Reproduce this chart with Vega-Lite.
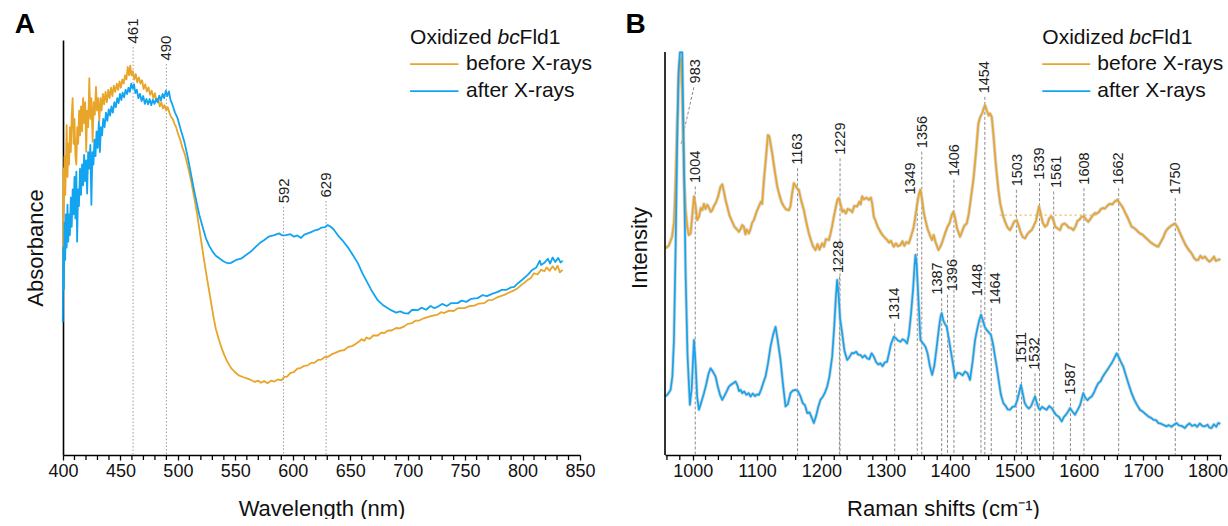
{
"$schema": "https://vega.github.io/schema/vega-lite/v6.json",
"padding": {"left": 14, "top": 11, "right": 0, "bottom": 0},
"bounds": "flush",
"spacing": 85,
"config": {
  "font": "Liberation Sans",
  "view": {"stroke": null},
  "axis": {"grid": false, "domainColor": "#000", "domainWidth": 1.6, "tickColor": "#000", "tickWidth": 1.3, "tickSize": 5, "labelFontSize": 18, "labelColor": "#111", "labelPadding": 2, "titleFontSize": 22, "titleFontWeight": "normal", "titleColor": "#111", "labelFlush": false, "labelOverlap": false}
},
"datasets": {
  "absA": [
    {"nm":400.0,"a":42,"s":"before X-rays"},{"nm":400.3,"a":69,"s":"before X-rays"},{"nm":400.8,"a":60,"s":"before X-rays"},{"nm":401.3,"a":72,"s":"before X-rays"},{"nm":402.0,"a":62.7,"s":"before X-rays"},{"nm":402.6,"a":71,"s":"before X-rays"},{"nm":403.2,"a":79.5,"s":"before X-rays"},{"nm":403.9,"a":67,"s":"before X-rays"},{"nm":404.6,"a":75,"s":"before X-rays"},{"nm":405.3,"a":70,"s":"before X-rays"},{"nm":406.0,"a":79,"s":"before X-rays"},{"nm":406.8,"a":73,"s":"before X-rays"},{"nm":407.6,"a":82,"s":"before X-rays"},{"nm":408.4,"a":86,"s":"before X-rays"},{"nm":409.2,"a":75,"s":"before X-rays"},{"nm":410.0,"a":81,"s":"before X-rays"},{"nm":410.8,"a":72,"s":"before X-rays"},{"nm":411.6,"a":70,"s":"before X-rays"},{"nm":412.4,"a":79,"s":"before X-rays"},{"nm":413.2,"a":75,"s":"before X-rays"},{"nm":414.0,"a":83,"s":"before X-rays"},{"nm":414.8,"a":77,"s":"before X-rays"},{"nm":415.7,"a":84,"s":"before X-rays"},{"nm":416.6,"a":78,"s":"before X-rays"},{"nm":417.5,"a":86,"s":"before X-rays"},{"nm":418.4,"a":80,"s":"before X-rays"},{"nm":419.3,"a":85,"s":"before X-rays"},{"nm":420.2,"a":73.1,"s":"before X-rays"},{"nm":421.0,"a":83,"s":"before X-rays"},{"nm":421.9,"a":79,"s":"before X-rays"},{"nm":422.9,"a":90.8,"s":"before X-rays"},{"nm":423.8,"a":81,"s":"before X-rays"},{"nm":424.7,"a":86,"s":"before X-rays"},{"nm":425.8,"a":75.5,"s":"before X-rays"},{"nm":426.7,"a":85,"s":"before X-rays"},{"nm":427.7,"a":82,"s":"before X-rays"},{"nm":428.7,"a":88.7,"s":"before X-rays"},{"nm":429.6,"a":83,"s":"before X-rays"},{"nm":430.5,"a":86,"s":"before X-rays"},{"nm":431.6,"a":80.5,"s":"before X-rays"},{"nm":432.6,"a":86,"s":"before X-rays"},{"nm":433.6,"a":83,"s":"before X-rays"},{"nm":434.7,"a":87,"s":"before X-rays"},{"nm":435.8,"a":84.5,"s":"before X-rays"},{"nm":437.0,"a":87.5,"s":"before X-rays"},{"nm":438.2,"a":85,"s":"before X-rays"},{"nm":439.4,"a":88,"s":"before X-rays"},{"nm":440.6,"a":86,"s":"before X-rays"},{"nm":441.8,"a":88.5,"s":"before X-rays"},{"nm":443.0,"a":86.5,"s":"before X-rays"},{"nm":444.2,"a":89,"s":"before X-rays"},{"nm":445.5,"a":87.5,"s":"before X-rays"},{"nm":446.8,"a":89.5,"s":"before X-rays"},{"nm":448.0,"a":88,"s":"before X-rays"},{"nm":449.2,"a":90,"s":"before X-rays"},{"nm":450.4,"a":88.5,"s":"before X-rays"},{"nm":451.6,"a":90.5,"s":"before X-rays"},{"nm":452.8,"a":89.5,"s":"before X-rays"},{"nm":454.0,"a":91.5,"s":"before X-rays"},{"nm":455.2,"a":90.5,"s":"before X-rays"},{"nm":456.3,"a":93.5,"s":"before X-rays"},{"nm":457.5,"a":91.5,"s":"before X-rays"},{"nm":458.5,"a":93.8,"s":"before X-rays"},{"nm":459.6,"a":91.5,"s":"before X-rays"},{"nm":460.7,"a":92.5,"s":"before X-rays"},{"nm":462.0,"a":90.5,"s":"before X-rays"},{"nm":463.3,"a":91.8,"s":"before X-rays"},{"nm":464.6,"a":89.8,"s":"before X-rays"},{"nm":466.0,"a":91,"s":"before X-rays"},{"nm":467.4,"a":89.5,"s":"before X-rays"},{"nm":468.8,"a":90.3,"s":"before X-rays"},{"nm":470.2,"a":88.2,"s":"before X-rays"},{"nm":471.6,"a":89.3,"s":"before X-rays"},{"nm":473.0,"a":87.6,"s":"before X-rays"},{"nm":474.4,"a":88.6,"s":"before X-rays"},{"nm":475.8,"a":86.8,"s":"before X-rays"},{"nm":477.2,"a":87.8,"s":"before X-rays"},{"nm":478.6,"a":86,"s":"before X-rays"},{"nm":480.0,"a":87.2,"s":"before X-rays"},{"nm":481.4,"a":85.3,"s":"before X-rays"},{"nm":482.8,"a":86,"s":"before X-rays"},{"nm":484.2,"a":84,"s":"before X-rays"},{"nm":485.6,"a":85,"s":"before X-rays"},{"nm":487.0,"a":83.5,"s":"before X-rays"},{"nm":488.4,"a":84.3,"s":"before X-rays"},{"nm":489.8,"a":83,"s":"before X-rays"},{"nm":491.2,"a":83.8,"s":"before X-rays"},{"nm":492.6,"a":82.5,"s":"before X-rays"},{"nm":494.0,"a":81.5,"s":"before X-rays"},{"nm":495.5,"a":81,"s":"before X-rays"},{"nm":497.0,"a":79.8,"s":"before X-rays"},{"nm":498.5,"a":79,"s":"before X-rays"},{"nm":500.0,"a":77.5,"s":"before X-rays"},{"nm":502.0,"a":76,"s":"before X-rays"},{"nm":504.0,"a":74,"s":"before X-rays"},{"nm":506.0,"a":72.5,"s":"before X-rays"},{"nm":508.0,"a":70.3,"s":"before X-rays"},{"nm":510.0,"a":68,"s":"before X-rays"},{"nm":512.0,"a":65.3,"s":"before X-rays"},{"nm":514.3,"a":61.9,"s":"before X-rays"},{"nm":516.5,"a":58.5,"s":"before X-rays"},{"nm":518.6,"a":54.6,"s":"before X-rays"},{"nm":520.8,"a":50.6,"s":"before X-rays"},{"nm":523.0,"a":46.6,"s":"before X-rays"},{"nm":525.1,"a":43,"s":"before X-rays"},{"nm":527.3,"a":39.4,"s":"before X-rays"},{"nm":529.5,"a":35.7,"s":"before X-rays"},{"nm":531.5,"a":32.5,"s":"before X-rays"},{"nm":533.1,"a":30.3,"s":"before X-rays"},{"nm":535.5,"a":28,"s":"before X-rays"},{"nm":538.0,"a":25.8,"s":"before X-rays"},{"nm":540.5,"a":24,"s":"before X-rays"},{"nm":543.0,"a":22.5,"s":"before X-rays"},{"nm":546.2,"a":21,"s":"before X-rays"},{"nm":549.5,"a":20,"s":"before X-rays"},{"nm":553.0,"a":19.2,"s":"before X-rays"},{"nm":556.5,"a":18.8,"s":"before X-rays"},{"nm":560.8,"a":18.4,"s":"before X-rays"},{"nm":564.0,"a":18,"s":"before X-rays"},{"nm":567.0,"a":17.6,"s":"before X-rays"},{"nm":570.0,"a":17.9,"s":"before X-rays"},{"nm":572.3,"a":17.4,"s":"before X-rays"},{"nm":575.0,"a":17.8,"s":"before X-rays"},{"nm":578.0,"a":17.3,"s":"before X-rays"},{"nm":581.0,"a":17.9,"s":"before X-rays"},{"nm":583.9,"a":17.7,"s":"before X-rays"},{"nm":587.0,"a":18.2,"s":"before X-rays"},{"nm":590.0,"a":18,"s":"before X-rays"},{"nm":592.6,"a":18.8,"s":"before X-rays"},{"nm":595.0,"a":18.9,"s":"before X-rays"},{"nm":598.0,"a":19.8,"s":"before X-rays"},{"nm":601.0,"a":20,"s":"before X-rays"},{"nm":604.0,"a":20.8,"s":"before X-rays"},{"nm":607.2,"a":21,"s":"before X-rays"},{"nm":610.0,"a":21.5,"s":"before X-rays"},{"nm":613.0,"a":21.6,"s":"before X-rays"},{"nm":616.0,"a":22.2,"s":"before X-rays"},{"nm":618.7,"a":22.2,"s":"before X-rays"},{"nm":622.0,"a":22.9,"s":"before X-rays"},{"nm":625.0,"a":23,"s":"before X-rays"},{"nm":628.0,"a":23.6,"s":"before X-rays"},{"nm":630.4,"a":23.6,"s":"before X-rays"},{"nm":634.0,"a":24.3,"s":"before X-rays"},{"nm":637.0,"a":24.6,"s":"before X-rays"},{"nm":641.0,"a":25.1,"s":"before X-rays"},{"nm":644.8,"a":25.3,"s":"before X-rays"},{"nm":648.0,"a":26,"s":"before X-rays"},{"nm":652.0,"a":26.3,"s":"before X-rays"},{"nm":655.0,"a":26.8,"s":"before X-rays"},{"nm":658.0,"a":27.4,"s":"before X-rays"},{"nm":660.0,"a":27.9,"s":"before X-rays"},{"nm":662.3,"a":27.5,"s":"before X-rays"},{"nm":664.0,"a":28.3,"s":"before X-rays"},{"nm":667.0,"a":28,"s":"before X-rays"},{"nm":670.0,"a":28.8,"s":"before X-rays"},{"nm":674.0,"a":28.8,"s":"before X-rays"},{"nm":677.0,"a":29.5,"s":"before X-rays"},{"nm":679.7,"a":29.4,"s":"before X-rays"},{"nm":683.0,"a":30,"s":"before X-rays"},{"nm":686.0,"a":30,"s":"before X-rays"},{"nm":690.0,"a":30.6,"s":"before X-rays"},{"nm":693.0,"a":30.5,"s":"before X-rays"},{"nm":697.1,"a":31,"s":"before X-rays"},{"nm":700.0,"a":31.6,"s":"before X-rays"},{"nm":704.0,"a":31.8,"s":"before X-rays"},{"nm":707.0,"a":32.4,"s":"before X-rays"},{"nm":710.0,"a":32.4,"s":"before X-rays"},{"nm":714.5,"a":33,"s":"before X-rays"},{"nm":718.0,"a":33.3,"s":"before X-rays"},{"nm":722.0,"a":33.6,"s":"before X-rays"},{"nm":726.0,"a":33.8,"s":"before X-rays"},{"nm":729.0,"a":34.4,"s":"before X-rays"},{"nm":731.9,"a":34.2,"s":"before X-rays"},{"nm":736.0,"a":34.8,"s":"before X-rays"},{"nm":740.0,"a":34.7,"s":"before X-rays"},{"nm":744.0,"a":35.4,"s":"before X-rays"},{"nm":749.3,"a":35.4,"s":"before X-rays"},{"nm":754.0,"a":35.9,"s":"before X-rays"},{"nm":758.0,"a":36,"s":"before X-rays"},{"nm":762.0,"a":36.5,"s":"before X-rays"},{"nm":766.7,"a":36.6,"s":"before X-rays"},{"nm":770.0,"a":37.3,"s":"before X-rays"},{"nm":774.0,"a":37.4,"s":"before X-rays"},{"nm":778.0,"a":38,"s":"before X-rays"},{"nm":781.0,"a":38.3,"s":"before X-rays"},{"nm":784.1,"a":38.6,"s":"before X-rays"},{"nm":788.0,"a":39.1,"s":"before X-rays"},{"nm":792.0,"a":39.6,"s":"before X-rays"},{"nm":795.8,"a":40.2,"s":"before X-rays"},{"nm":799.0,"a":41,"s":"before X-rays"},{"nm":802.0,"a":41.6,"s":"before X-rays"},{"nm":804.5,"a":42.2,"s":"before X-rays"},{"nm":807.0,"a":42.6,"s":"before X-rays"},{"nm":810.0,"a":43.8,"s":"before X-rays"},{"nm":813.0,"a":43.5,"s":"before X-rays"},{"nm":816.1,"a":44.6,"s":"before X-rays"},{"nm":819.0,"a":44.3,"s":"before X-rays"},{"nm":821.0,"a":45.2,"s":"before X-rays"},{"nm":823.5,"a":44.4,"s":"before X-rays"},{"nm":826.2,"a":45.5,"s":"before X-rays"},{"nm":828.5,"a":44.6,"s":"before X-rays"},{"nm":830.5,"a":45.6,"s":"before X-rays"},{"nm":832.5,"a":44,"s":"before X-rays"},{"nm":834.9,"a":44.6,"s":"before X-rays"},
    {"nm":399.8,"a":32,"s":"after X-rays"},{"nm":400.2,"a":50,"s":"after X-rays"},{"nm":400.8,"a":40,"s":"after X-rays"},{"nm":401.3,"a":56,"s":"after X-rays"},{"nm":401.9,"a":47,"s":"after X-rays"},{"nm":402.5,"a":58,"s":"after X-rays"},{"nm":403.2,"a":50,"s":"after X-rays"},{"nm":403.9,"a":60.3,"s":"after X-rays"},{"nm":404.6,"a":51.4,"s":"after X-rays"},{"nm":405.3,"a":58,"s":"after X-rays"},{"nm":406.0,"a":53,"s":"after X-rays"},{"nm":406.8,"a":62,"s":"after X-rays"},{"nm":407.6,"a":55,"s":"after X-rays"},{"nm":408.4,"a":64,"s":"after X-rays"},{"nm":409.2,"a":58,"s":"after X-rays"},{"nm":410.0,"a":67,"s":"after X-rays"},{"nm":410.8,"a":57,"s":"after X-rays"},{"nm":411.6,"a":68.3,"s":"after X-rays"},{"nm":412.3,"a":51.4,"s":"after X-rays"},{"nm":413.1,"a":64,"s":"after X-rays"},{"nm":413.9,"a":60,"s":"after X-rays"},{"nm":414.8,"a":69,"s":"after X-rays"},{"nm":415.7,"a":62.7,"s":"after X-rays"},{"nm":416.6,"a":70,"s":"after X-rays"},{"nm":417.5,"a":65,"s":"after X-rays"},{"nm":418.4,"a":72.3,"s":"after X-rays"},{"nm":419.3,"a":66,"s":"after X-rays"},{"nm":420.2,"a":71,"s":"after X-rays"},{"nm":421.0,"a":63,"s":"after X-rays"},{"nm":421.9,"a":73,"s":"after X-rays"},{"nm":422.9,"a":69,"s":"after X-rays"},{"nm":423.8,"a":74.7,"s":"after X-rays"},{"nm":424.7,"a":60.3,"s":"after X-rays"},{"nm":425.6,"a":73,"s":"after X-rays"},{"nm":426.5,"a":70,"s":"after X-rays"},{"nm":427.4,"a":76,"s":"after X-rays"},{"nm":428.3,"a":72,"s":"after X-rays"},{"nm":429.2,"a":78,"s":"after X-rays"},{"nm":430.2,"a":74,"s":"after X-rays"},{"nm":431.2,"a":80.3,"s":"after X-rays"},{"nm":432.1,"a":73,"s":"after X-rays"},{"nm":433.0,"a":79,"s":"after X-rays"},{"nm":434.0,"a":77,"s":"after X-rays"},{"nm":435.0,"a":81,"s":"after X-rays"},{"nm":436.2,"a":79,"s":"after X-rays"},{"nm":437.4,"a":82.5,"s":"after X-rays"},{"nm":438.6,"a":80.5,"s":"after X-rays"},{"nm":439.8,"a":83.3,"s":"after X-rays"},{"nm":441.0,"a":81.8,"s":"after X-rays"},{"nm":442.2,"a":84,"s":"after X-rays"},{"nm":443.4,"a":82.5,"s":"after X-rays"},{"nm":444.7,"a":85,"s":"after X-rays"},{"nm":446.0,"a":83.8,"s":"after X-rays"},{"nm":447.2,"a":86,"s":"after X-rays"},{"nm":448.4,"a":84.8,"s":"after X-rays"},{"nm":449.6,"a":87,"s":"after X-rays"},{"nm":450.8,"a":85.5,"s":"after X-rays"},{"nm":451.9,"a":87.3,"s":"after X-rays"},{"nm":453.2,"a":86.2,"s":"after X-rays"},{"nm":454.5,"a":88,"s":"after X-rays"},{"nm":455.8,"a":87,"s":"after X-rays"},{"nm":457.0,"a":88.5,"s":"after X-rays"},{"nm":458.2,"a":87.5,"s":"after X-rays"},{"nm":459.4,"a":89.5,"s":"after X-rays"},{"nm":460.6,"a":88.3,"s":"after X-rays"},{"nm":461.8,"a":89.3,"s":"after X-rays"},{"nm":463.0,"a":87.2,"s":"after X-rays"},{"nm":464.3,"a":88,"s":"after X-rays"},{"nm":465.6,"a":86,"s":"after X-rays"},{"nm":467.0,"a":87,"s":"after X-rays"},{"nm":468.4,"a":85.3,"s":"after X-rays"},{"nm":469.8,"a":86.5,"s":"after X-rays"},{"nm":471.2,"a":84.6,"s":"after X-rays"},{"nm":472.6,"a":85.8,"s":"after X-rays"},{"nm":474.0,"a":84.5,"s":"after X-rays"},{"nm":475.4,"a":85.8,"s":"after X-rays"},{"nm":476.8,"a":84.3,"s":"after X-rays"},{"nm":478.2,"a":85.6,"s":"after X-rays"},{"nm":479.6,"a":84.6,"s":"after X-rays"},{"nm":481.0,"a":85.8,"s":"after X-rays"},{"nm":482.4,"a":85,"s":"after X-rays"},{"nm":483.8,"a":86.6,"s":"after X-rays"},{"nm":485.2,"a":85.4,"s":"after X-rays"},{"nm":486.7,"a":87,"s":"after X-rays"},{"nm":488.1,"a":86,"s":"after X-rays"},{"nm":489.5,"a":87.8,"s":"after X-rays"},{"nm":490.8,"a":86.5,"s":"after X-rays"},{"nm":492.2,"a":87.6,"s":"after X-rays"},{"nm":493.6,"a":85.5,"s":"after X-rays"},{"nm":495.4,"a":84.3,"s":"after X-rays"},{"nm":497.5,"a":82.5,"s":"after X-rays"},{"nm":499.8,"a":81.1,"s":"after X-rays"},{"nm":502.5,"a":78.4,"s":"after X-rays"},{"nm":505.6,"a":75.5,"s":"after X-rays"},{"nm":507.8,"a":72.8,"s":"after X-rays"},{"nm":509.9,"a":69.9,"s":"after X-rays"},{"nm":512.0,"a":66.8,"s":"after X-rays"},{"nm":514.3,"a":63.5,"s":"after X-rays"},{"nm":516.5,"a":60.6,"s":"after X-rays"},{"nm":518.6,"a":57.9,"s":"after X-rays"},{"nm":521.5,"a":55,"s":"after X-rays"},{"nm":524.4,"a":52.2,"s":"after X-rays"},{"nm":527.3,"a":50.4,"s":"after X-rays"},{"nm":530.2,"a":49,"s":"after X-rays"},{"nm":533.0,"a":48,"s":"after X-rays"},{"nm":536.0,"a":47.4,"s":"after X-rays"},{"nm":539.5,"a":46.7,"s":"after X-rays"},{"nm":543.3,"a":46.2,"s":"after X-rays"},{"nm":546.2,"a":46.3,"s":"after X-rays"},{"nm":550.6,"a":47,"s":"after X-rays"},{"nm":555.0,"a":47.3,"s":"after X-rays"},{"nm":559.3,"a":48.2,"s":"after X-rays"},{"nm":563.0,"a":48.9,"s":"after X-rays"},{"nm":567.9,"a":50.2,"s":"after X-rays"},{"nm":571.0,"a":51,"s":"after X-rays"},{"nm":575.2,"a":51.8,"s":"after X-rays"},{"nm":579.0,"a":52.6,"s":"after X-rays"},{"nm":583.9,"a":53,"s":"after X-rays"},{"nm":588.0,"a":53.4,"s":"after X-rays"},{"nm":591.0,"a":52.9,"s":"after X-rays"},{"nm":594.1,"a":53,"s":"after X-rays"},{"nm":598.0,"a":53.2,"s":"after X-rays"},{"nm":601.0,"a":52.6,"s":"after X-rays"},{"nm":604.0,"a":52.9,"s":"after X-rays"},{"nm":607.2,"a":52.3,"s":"after X-rays"},{"nm":610.0,"a":53.1,"s":"after X-rays"},{"nm":613.0,"a":53.4,"s":"after X-rays"},{"nm":615.9,"a":53.7,"s":"after X-rays"},{"nm":619.0,"a":54.1,"s":"after X-rays"},{"nm":622.0,"a":54.3,"s":"after X-rays"},{"nm":625.0,"a":54.8,"s":"after X-rays"},{"nm":628.0,"a":54.9,"s":"after X-rays"},{"nm":630.4,"a":55.4,"s":"after X-rays"},{"nm":633.0,"a":55,"s":"after X-rays"},{"nm":635.5,"a":54.4,"s":"after X-rays"},{"nm":639.1,"a":53,"s":"after X-rays"},{"nm":643.0,"a":51.8,"s":"after X-rays"},{"nm":647.8,"a":50.1,"s":"after X-rays"},{"nm":652.0,"a":48.3,"s":"after X-rays"},{"nm":656.5,"a":46.3,"s":"after X-rays"},{"nm":661.0,"a":43.6,"s":"after X-rays"},{"nm":665.2,"a":41.4,"s":"after X-rays"},{"nm":669.5,"a":39.2,"s":"after X-rays"},{"nm":673.9,"a":37.3,"s":"after X-rays"},{"nm":679.0,"a":36,"s":"after X-rays"},{"nm":685.5,"a":34.9,"s":"after X-rays"},{"nm":690.0,"a":34.3,"s":"after X-rays"},{"nm":693.5,"a":34.6,"s":"after X-rays"},{"nm":697.1,"a":34.2,"s":"after X-rays"},{"nm":700.5,"a":34.1,"s":"after X-rays"},{"nm":704.0,"a":35,"s":"after X-rays"},{"nm":708.7,"a":34.9,"s":"after X-rays"},{"nm":712.0,"a":35.5,"s":"after X-rays"},{"nm":716.0,"a":35,"s":"after X-rays"},{"nm":720.0,"a":35.9,"s":"after X-rays"},{"nm":723.0,"a":35.4,"s":"after X-rays"},{"nm":726.1,"a":35.7,"s":"after X-rays"},{"nm":730.0,"a":36.4,"s":"after X-rays"},{"nm":734.0,"a":35.9,"s":"after X-rays"},{"nm":738.0,"a":36.6,"s":"after X-rays"},{"nm":743.5,"a":36.6,"s":"after X-rays"},{"nm":747.0,"a":37.2,"s":"after X-rays"},{"nm":751.0,"a":36.9,"s":"after X-rays"},{"nm":755.0,"a":37.6,"s":"after X-rays"},{"nm":760.9,"a":37.8,"s":"after X-rays"},{"nm":765.0,"a":38.5,"s":"after X-rays"},{"nm":769.0,"a":38.3,"s":"after X-rays"},{"nm":774.0,"a":38.9,"s":"after X-rays"},{"nm":778.4,"a":39.3,"s":"after X-rays"},{"nm":782.0,"a":39.8,"s":"after X-rays"},{"nm":786.0,"a":39.8,"s":"after X-rays"},{"nm":790.0,"a":40.4,"s":"after X-rays"},{"nm":792.8,"a":40.5,"s":"after X-rays"},{"nm":796.0,"a":41.4,"s":"after X-rays"},{"nm":800.0,"a":42.3,"s":"after X-rays"},{"nm":804.5,"a":43.4,"s":"after X-rays"},{"nm":808.0,"a":44.5,"s":"after X-rays"},{"nm":812.0,"a":45.2,"s":"after X-rays"},{"nm":815.0,"a":46.8,"s":"after X-rays"},{"nm":816.1,"a":45.8,"s":"after X-rays"},{"nm":819.0,"a":46.3,"s":"after X-rays"},{"nm":822.0,"a":47.3,"s":"after X-rays"},{"nm":824.0,"a":46.1,"s":"after X-rays"},{"nm":826.2,"a":47.6,"s":"after X-rays"},{"nm":828.5,"a":46.5,"s":"after X-rays"},{"nm":831.0,"a":47.5,"s":"after X-rays"},{"nm":833.0,"a":46.4,"s":"after X-rays"},{"nm":834.9,"a":46.8,"s":"after X-rays"}
  ],
  "ram": [
    {"cm":958,"i":49.8,"s":"before X-rays"},{"cm":963,"i":50.5,"s":"before X-rays"},{"cm":968,"i":52.6,"s":"before X-rays"},{"cm":971,"i":56,"s":"before X-rays"},{"cm":973,"i":63.9,"s":"before X-rays"},{"cm":976,"i":80,"s":"before X-rays"},{"cm":978.7,"i":93,"s":"before X-rays"},{"cm":981.3,"i":95.6,"s":"before X-rays"},{"cm":983.5,"i":88,"s":"before X-rays"},{"cm":986.4,"i":67.9,"s":"before X-rays"},{"cm":989,"i":59,"s":"before X-rays"},{"cm":991.6,"i":55,"s":"before X-rays"},{"cm":994,"i":53,"s":"before X-rays"},{"cm":996.8,"i":53.4,"s":"before X-rays"},{"cm":999,"i":57,"s":"before X-rays"},{"cm":1002,"i":62.3,"s":"before X-rays"},{"cm":1004.5,"i":60,"s":"before X-rays"},{"cm":1007,"i":56.6,"s":"before X-rays"},{"cm":1010,"i":57.5,"s":"before X-rays"},{"cm":1012.5,"i":59.5,"s":"before X-rays"},{"cm":1014.9,"i":59,"s":"before X-rays"},{"cm":1017.5,"i":60.5,"s":"before X-rays"},{"cm":1020,"i":59.3,"s":"before X-rays"},{"cm":1022.7,"i":60.3,"s":"before X-rays"},{"cm":1025.5,"i":59.5,"s":"before X-rays"},{"cm":1028,"i":58.6,"s":"before X-rays"},{"cm":1030.4,"i":59,"s":"before X-rays"},{"cm":1033,"i":60,"s":"before X-rays"},{"cm":1035.6,"i":60.7,"s":"before X-rays"},{"cm":1039,"i":62,"s":"before X-rays"},{"cm":1043.4,"i":64.7,"s":"before X-rays"},{"cm":1046,"i":65.2,"s":"before X-rays"},{"cm":1048.5,"i":63.5,"s":"before X-rays"},{"cm":1051,"i":61.5,"s":"before X-rays"},{"cm":1053.7,"i":59.9,"s":"before X-rays"},{"cm":1057,"i":57.8,"s":"before X-rays"},{"cm":1061.5,"i":56.2,"s":"before X-rays"},{"cm":1065,"i":55,"s":"before X-rays"},{"cm":1068,"i":54.5,"s":"before X-rays"},{"cm":1071.8,"i":53.8,"s":"before X-rays"},{"cm":1075,"i":54.6,"s":"before X-rays"},{"cm":1077,"i":55.4,"s":"before X-rays"},{"cm":1079.6,"i":55,"s":"before X-rays"},{"cm":1082,"i":53.2,"s":"before X-rays"},{"cm":1084,"i":54.3,"s":"before X-rays"},{"cm":1087.4,"i":53.4,"s":"before X-rays"},{"cm":1090,"i":54.5,"s":"before X-rays"},{"cm":1092.5,"i":56,"s":"before X-rays"},{"cm":1095.1,"i":56.6,"s":"before X-rays"},{"cm":1099,"i":58.5,"s":"before X-rays"},{"cm":1102.9,"i":59.9,"s":"before X-rays"},{"cm":1106,"i":61,"s":"before X-rays"},{"cm":1108,"i":60.5,"s":"before X-rays"},{"cm":1110.7,"i":66.3,"s":"before X-rays"},{"cm":1113.5,"i":71,"s":"before X-rays"},{"cm":1116.9,"i":77.1,"s":"before X-rays"},{"cm":1119,"i":76.8,"s":"before X-rays"},{"cm":1121,"i":75,"s":"before X-rays"},{"cm":1123.6,"i":72.7,"s":"before X-rays"},{"cm":1127,"i":69,"s":"before X-rays"},{"cm":1131.4,"i":64.7,"s":"before X-rays"},{"cm":1135,"i":62.5,"s":"before X-rays"},{"cm":1138,"i":61,"s":"before X-rays"},{"cm":1141.7,"i":59.9,"s":"before X-rays"},{"cm":1145,"i":59.2,"s":"before X-rays"},{"cm":1149.5,"i":59,"s":"before X-rays"},{"cm":1152,"i":60,"s":"before X-rays"},{"cm":1154.5,"i":63,"s":"before X-rays"},{"cm":1157.3,"i":65.5,"s":"before X-rays"},{"cm":1160,"i":64.8,"s":"before X-rays"},{"cm":1162.5,"i":64.2,"s":"before X-rays"},{"cm":1165,"i":63.9,"s":"before X-rays"},{"cm":1168,"i":61.7,"s":"before X-rays"},{"cm":1172.8,"i":59,"s":"before X-rays"},{"cm":1176,"i":56.5,"s":"before X-rays"},{"cm":1180.5,"i":53.4,"s":"before X-rays"},{"cm":1184,"i":51.7,"s":"before X-rays"},{"cm":1187,"i":50.3,"s":"before X-rays"},{"cm":1190.9,"i":49.4,"s":"before X-rays"},{"cm":1194,"i":50.8,"s":"before X-rays"},{"cm":1197,"i":49.5,"s":"before X-rays"},{"cm":1201.2,"i":51,"s":"before X-rays"},{"cm":1204,"i":50.2,"s":"before X-rays"},{"cm":1207,"i":52,"s":"before X-rays"},{"cm":1211.6,"i":51.8,"s":"before X-rays"},{"cm":1214,"i":53.2,"s":"before X-rays"},{"cm":1216.5,"i":55,"s":"before X-rays"},{"cm":1219.4,"i":57.4,"s":"before X-rays"},{"cm":1222.5,"i":59.8,"s":"before X-rays"},{"cm":1225,"i":61.5,"s":"before X-rays"},{"cm":1227.1,"i":61.9,"s":"before X-rays"},{"cm":1230,"i":60.3,"s":"before X-rays"},{"cm":1232.5,"i":58.6,"s":"before X-rays"},{"cm":1234.9,"i":59,"s":"before X-rays"},{"cm":1238,"i":58.2,"s":"before X-rays"},{"cm":1241,"i":59.3,"s":"before X-rays"},{"cm":1245.2,"i":59,"s":"before X-rays"},{"cm":1248,"i":58.5,"s":"before X-rays"},{"cm":1251,"i":60,"s":"before X-rays"},{"cm":1255.6,"i":59.9,"s":"before X-rays"},{"cm":1259,"i":61,"s":"before X-rays"},{"cm":1261,"i":60.4,"s":"before X-rays"},{"cm":1263.3,"i":62.3,"s":"before X-rays"},{"cm":1266,"i":61.6,"s":"before X-rays"},{"cm":1270,"i":62,"s":"before X-rays"},{"cm":1273.7,"i":61.5,"s":"before X-rays"},{"cm":1277,"i":62,"s":"before X-rays"},{"cm":1279,"i":60.5,"s":"before X-rays"},{"cm":1281.5,"i":57.4,"s":"before X-rays"},{"cm":1284,"i":56.5,"s":"before X-rays"},{"cm":1287.5,"i":55,"s":"before X-rays"},{"cm":1291.8,"i":53.8,"s":"before X-rays"},{"cm":1295,"i":53,"s":"before X-rays"},{"cm":1298.5,"i":52.4,"s":"before X-rays"},{"cm":1302.2,"i":51.8,"s":"before X-rays"},{"cm":1305,"i":51.2,"s":"before X-rays"},{"cm":1308,"i":51.6,"s":"before X-rays"},{"cm":1312.5,"i":50.2,"s":"before X-rays"},{"cm":1316,"i":51,"s":"before X-rays"},{"cm":1319,"i":50.3,"s":"before X-rays"},{"cm":1322.9,"i":50.6,"s":"before X-rays"},{"cm":1326,"i":51.5,"s":"before X-rays"},{"cm":1329,"i":50.4,"s":"before X-rays"},{"cm":1332,"i":51.3,"s":"before X-rays"},{"cm":1335.8,"i":51,"s":"before X-rays"},{"cm":1339,"i":52.5,"s":"before X-rays"},{"cm":1341.5,"i":53.8,"s":"before X-rays"},{"cm":1343.6,"i":55,"s":"before X-rays"},{"cm":1346.5,"i":58,"s":"before X-rays"},{"cm":1349,"i":60.6,"s":"before X-rays"},{"cm":1351.5,"i":62.8,"s":"before X-rays"},{"cm":1353.9,"i":63.9,"s":"before X-rays"},{"cm":1356.5,"i":61.5,"s":"before X-rays"},{"cm":1359,"i":58.5,"s":"before X-rays"},{"cm":1361.7,"i":56.6,"s":"before X-rays"},{"cm":1365,"i":54.5,"s":"before X-rays"},{"cm":1369.5,"i":52.6,"s":"before X-rays"},{"cm":1372,"i":51.8,"s":"before X-rays"},{"cm":1374.5,"i":53,"s":"before X-rays"},{"cm":1377.2,"i":51.4,"s":"before X-rays"},{"cm":1381.9,"i":49.4,"s":"before X-rays"},{"cm":1385,"i":50.2,"s":"before X-rays"},{"cm":1388,"i":51.4,"s":"before X-rays"},{"cm":1392.2,"i":53.4,"s":"before X-rays"},{"cm":1396,"i":55,"s":"before X-rays"},{"cm":1399.5,"i":56,"s":"before X-rays"},{"cm":1402.5,"i":57.8,"s":"before X-rays"},{"cm":1405.1,"i":58.6,"s":"before X-rays"},{"cm":1408,"i":57,"s":"before X-rays"},{"cm":1411,"i":54.5,"s":"before X-rays"},{"cm":1415.5,"i":52.6,"s":"before X-rays"},{"cm":1419,"i":54,"s":"before X-rays"},{"cm":1422,"i":55.2,"s":"before X-rays"},{"cm":1425.9,"i":55.8,"s":"before X-rays"},{"cm":1429,"i":58,"s":"before X-rays"},{"cm":1432,"i":61.5,"s":"before X-rays"},{"cm":1436.2,"i":66.3,"s":"before X-rays"},{"cm":1440,"i":72.5,"s":"before X-rays"},{"cm":1444,"i":79.9,"s":"before X-rays"},{"cm":1447,"i":81.5,"s":"before X-rays"},{"cm":1450,"i":82.4,"s":"before X-rays"},{"cm":1452.5,"i":83.6,"s":"before X-rays"},{"cm":1454.3,"i":84.3,"s":"before X-rays"},{"cm":1457,"i":83,"s":"before X-rays"},{"cm":1460,"i":81.8,"s":"before X-rays"},{"cm":1462,"i":82.3,"s":"before X-rays"},{"cm":1464.7,"i":81.5,"s":"before X-rays"},{"cm":1467.5,"i":77,"s":"before X-rays"},{"cm":1470,"i":72,"s":"before X-rays"},{"cm":1472.4,"i":67.9,"s":"before X-rays"},{"cm":1475,"i":64,"s":"before X-rays"},{"cm":1478,"i":60.5,"s":"before X-rays"},{"cm":1482.8,"i":57.4,"s":"before X-rays"},{"cm":1486,"i":56,"s":"before X-rays"},{"cm":1489.5,"i":54.8,"s":"before X-rays"},{"cm":1493.1,"i":54.2,"s":"before X-rays"},{"cm":1496,"i":55,"s":"before X-rays"},{"cm":1499.5,"i":56.2,"s":"before X-rays"},{"cm":1503.5,"i":56.6,"s":"before X-rays"},{"cm":1507,"i":55,"s":"before X-rays"},{"cm":1510,"i":53.5,"s":"before X-rays"},{"cm":1513,"i":52.5,"s":"before X-rays"},{"cm":1516.4,"i":52.2,"s":"before X-rays"},{"cm":1520,"i":53.2,"s":"before X-rays"},{"cm":1523.5,"i":53.8,"s":"before X-rays"},{"cm":1526.8,"i":54.2,"s":"before X-rays"},{"cm":1530,"i":55.2,"s":"before X-rays"},{"cm":1533.5,"i":56.4,"s":"before X-rays"},{"cm":1536,"i":58.3,"s":"before X-rays"},{"cm":1538.2,"i":59.9,"s":"before X-rays"},{"cm":1541,"i":58,"s":"before X-rays"},{"cm":1544,"i":56,"s":"before X-rays"},{"cm":1547.5,"i":55,"s":"before X-rays"},{"cm":1551,"i":55.5,"s":"before X-rays"},{"cm":1554,"i":57,"s":"before X-rays"},{"cm":1557.5,"i":57.5,"s":"before X-rays"},{"cm":1560.4,"i":56.6,"s":"before X-rays"},{"cm":1563.5,"i":55,"s":"before X-rays"},{"cm":1567,"i":54.6,"s":"before X-rays"},{"cm":1570.8,"i":54.2,"s":"before X-rays"},{"cm":1574,"i":55.5,"s":"before X-rays"},{"cm":1577.5,"i":55.8,"s":"before X-rays"},{"cm":1581.1,"i":55.4,"s":"before X-rays"},{"cm":1584.5,"i":54.8,"s":"before X-rays"},{"cm":1588,"i":54.7,"s":"before X-rays"},{"cm":1591.5,"i":54.2,"s":"before X-rays"},{"cm":1595,"i":55.1,"s":"before X-rays"},{"cm":1598,"i":56.4,"s":"before X-rays"},{"cm":1601,"i":56.7,"s":"before X-rays"},{"cm":1604.4,"i":57.4,"s":"before X-rays"},{"cm":1608,"i":57.5,"s":"before X-rays"},{"cm":1611,"i":56.8,"s":"before X-rays"},{"cm":1614.8,"i":56.2,"s":"before X-rays"},{"cm":1618.5,"i":57,"s":"before X-rays"},{"cm":1622,"i":57.8,"s":"before X-rays"},{"cm":1625,"i":58.3,"s":"before X-rays"},{"cm":1627.7,"i":58.2,"s":"before X-rays"},{"cm":1631,"i":58.5,"s":"before X-rays"},{"cm":1634,"i":59.2,"s":"before X-rays"},{"cm":1637.5,"i":59.5,"s":"before X-rays"},{"cm":1640.7,"i":59.4,"s":"before X-rays"},{"cm":1644,"i":60,"s":"before X-rays"},{"cm":1648,"i":60.5,"s":"before X-rays"},{"cm":1652,"i":60.4,"s":"before X-rays"},{"cm":1656.2,"i":61.1,"s":"before X-rays"},{"cm":1660,"i":61.5,"s":"before X-rays"},{"cm":1663,"i":60.8,"s":"before X-rays"},{"cm":1666,"i":60.2,"s":"before X-rays"},{"cm":1669.1,"i":59.4,"s":"before X-rays"},{"cm":1672,"i":58.4,"s":"before X-rays"},{"cm":1676,"i":57.2,"s":"before X-rays"},{"cm":1679,"i":56.1,"s":"before X-rays"},{"cm":1682.1,"i":55,"s":"before X-rays"},{"cm":1685,"i":54.8,"s":"before X-rays"},{"cm":1689,"i":54.3,"s":"before X-rays"},{"cm":1692,"i":53.8,"s":"before X-rays"},{"cm":1695,"i":53.4,"s":"before X-rays"},{"cm":1699,"i":53.1,"s":"before X-rays"},{"cm":1703,"i":52.5,"s":"before X-rays"},{"cm":1708,"i":51.8,"s":"before X-rays"},{"cm":1712,"i":51.2,"s":"before X-rays"},{"cm":1716,"i":50.8,"s":"before X-rays"},{"cm":1720,"i":50.4,"s":"before X-rays"},{"cm":1723.5,"i":50.2,"s":"before X-rays"},{"cm":1727,"i":51.2,"s":"before X-rays"},{"cm":1731,"i":52.3,"s":"before X-rays"},{"cm":1734,"i":53.5,"s":"before X-rays"},{"cm":1736.4,"i":54.2,"s":"before X-rays"},{"cm":1740,"i":54.8,"s":"before X-rays"},{"cm":1744,"i":55.3,"s":"before X-rays"},{"cm":1749.4,"i":55.8,"s":"before X-rays"},{"cm":1753,"i":55,"s":"before X-rays"},{"cm":1757,"i":53.6,"s":"before X-rays"},{"cm":1762.3,"i":51.8,"s":"before X-rays"},{"cm":1766,"i":50.6,"s":"before X-rays"},{"cm":1770,"i":49.6,"s":"before X-rays"},{"cm":1775.3,"i":48.6,"s":"before X-rays"},{"cm":1779,"i":47.5,"s":"before X-rays"},{"cm":1782,"i":47,"s":"before X-rays"},{"cm":1785.6,"i":47,"s":"before X-rays"},{"cm":1789,"i":48,"s":"before X-rays"},{"cm":1792,"i":47.4,"s":"before X-rays"},{"cm":1796,"i":47.8,"s":"before X-rays"},{"cm":1800,"i":47,"s":"before X-rays"},{"cm":1803,"i":46.6,"s":"before X-rays"},{"cm":1806.3,"i":47,"s":"before X-rays"},{"cm":1810,"i":47.8,"s":"before X-rays"},{"cm":1813,"i":46.8,"s":"before X-rays"},{"cm":1816.6,"i":47,"s":"before X-rays"},{"cm":1820,"i":47.2,"s":"before X-rays"},
    {"cm":958,"i":14.1,"s":"after X-rays"},{"cm":962,"i":14.8,"s":"after X-rays"},{"cm":965.7,"i":15.7,"s":"after X-rays"},{"cm":968.5,"i":19,"s":"after X-rays"},{"cm":970.9,"i":27.7,"s":"after X-rays"},{"cm":973.5,"i":50,"s":"after X-rays"},{"cm":976,"i":75.9,"s":"after X-rays"},{"cm":978,"i":92,"s":"after X-rays"},{"cm":980.2,"i":97,"s":"after X-rays"},{"cm":983.8,"i":97,"s":"after X-rays"},{"cm":986,"i":75,"s":"after X-rays"},{"cm":989,"i":43.8,"s":"after X-rays"},{"cm":992,"i":24,"s":"after X-rays"},{"cm":995.7,"i":12.1,"s":"after X-rays"},{"cm":998.5,"i":16,"s":"after X-rays"},{"cm":1002,"i":27.7,"s":"after X-rays"},{"cm":1004.5,"i":22,"s":"after X-rays"},{"cm":1007,"i":14,"s":"after X-rays"},{"cm":1009.7,"i":10.9,"s":"after X-rays"},{"cm":1013,"i":12.5,"s":"after X-rays"},{"cm":1017.5,"i":14.9,"s":"after X-rays"},{"cm":1021,"i":17,"s":"after X-rays"},{"cm":1024.5,"i":19.5,"s":"after X-rays"},{"cm":1027.8,"i":20.9,"s":"after X-rays"},{"cm":1031,"i":20.2,"s":"after X-rays"},{"cm":1035.6,"i":18.9,"s":"after X-rays"},{"cm":1039,"i":16.5,"s":"after X-rays"},{"cm":1042.5,"i":14.5,"s":"after X-rays"},{"cm":1046,"i":13.3,"s":"after X-rays"},{"cm":1049.5,"i":14.3,"s":"after X-rays"},{"cm":1053,"i":15.4,"s":"after X-rays"},{"cm":1056.3,"i":16.5,"s":"after X-rays"},{"cm":1060,"i":17,"s":"after X-rays"},{"cm":1063,"i":17.3,"s":"after X-rays"},{"cm":1066.7,"i":17.7,"s":"after X-rays"},{"cm":1069.5,"i":16.8,"s":"after X-rays"},{"cm":1072,"i":15.4,"s":"after X-rays"},{"cm":1074.5,"i":15.7,"s":"after X-rays"},{"cm":1077,"i":14.9,"s":"after X-rays"},{"cm":1080,"i":15.3,"s":"after X-rays"},{"cm":1083.5,"i":14.5,"s":"after X-rays"},{"cm":1087,"i":14.9,"s":"after X-rays"},{"cm":1090,"i":14.1,"s":"after X-rays"},{"cm":1093.5,"i":14.8,"s":"after X-rays"},{"cm":1097,"i":14.2,"s":"after X-rays"},{"cm":1100,"i":14.6,"s":"after X-rays"},{"cm":1102.9,"i":14.5,"s":"after X-rays"},{"cm":1106,"i":15.6,"s":"after X-rays"},{"cm":1109.5,"i":17.3,"s":"after X-rays"},{"cm":1113.2,"i":18.9,"s":"after X-rays"},{"cm":1117,"i":22,"s":"after X-rays"},{"cm":1121,"i":26.1,"s":"after X-rays"},{"cm":1125,"i":29,"s":"after X-rays"},{"cm":1128.8,"i":30.9,"s":"after X-rays"},{"cm":1132,"i":27.8,"s":"after X-rays"},{"cm":1136.5,"i":22.9,"s":"after X-rays"},{"cm":1140,"i":17.5,"s":"after X-rays"},{"cm":1144.3,"i":11.7,"s":"after X-rays"},{"cm":1148,"i":12.3,"s":"after X-rays"},{"cm":1152,"i":14.9,"s":"after X-rays"},{"cm":1155.5,"i":15.5,"s":"after X-rays"},{"cm":1159.8,"i":15.7,"s":"after X-rays"},{"cm":1163.5,"i":15.4,"s":"after X-rays"},{"cm":1167.6,"i":14.1,"s":"after X-rays"},{"cm":1171,"i":12.5,"s":"after X-rays"},{"cm":1174.5,"i":12,"s":"after X-rays"},{"cm":1178,"i":10.1,"s":"after X-rays"},{"cm":1181.5,"i":10.3,"s":"after X-rays"},{"cm":1185,"i":9,"s":"after X-rays"},{"cm":1188.3,"i":7.7,"s":"after X-rays"},{"cm":1192,"i":9.5,"s":"after X-rays"},{"cm":1195,"i":11.5,"s":"after X-rays"},{"cm":1198.6,"i":13.3,"s":"after X-rays"},{"cm":1202,"i":14,"s":"after X-rays"},{"cm":1205.5,"i":15,"s":"after X-rays"},{"cm":1209,"i":16.5,"s":"after X-rays"},{"cm":1212.5,"i":18.9,"s":"after X-rays"},{"cm":1216.8,"i":23.7,"s":"after X-rays"},{"cm":1220,"i":31,"s":"after X-rays"},{"cm":1222.5,"i":38,"s":"after X-rays"},{"cm":1224.5,"i":42.2,"s":"after X-rays"},{"cm":1227,"i":38,"s":"after X-rays"},{"cm":1229,"i":33,"s":"after X-rays"},{"cm":1232.3,"i":29.3,"s":"after X-rays"},{"cm":1236,"i":25,"s":"after X-rays"},{"cm":1240.1,"i":22.9,"s":"after X-rays"},{"cm":1244,"i":23.7,"s":"after X-rays"},{"cm":1247.5,"i":24.6,"s":"after X-rays"},{"cm":1250.4,"i":24.5,"s":"after X-rays"},{"cm":1254,"i":24.9,"s":"after X-rays"},{"cm":1257,"i":24.2,"s":"after X-rays"},{"cm":1260.8,"i":24.1,"s":"after X-rays"},{"cm":1264,"i":23.5,"s":"after X-rays"},{"cm":1267.5,"i":24,"s":"after X-rays"},{"cm":1271.1,"i":23.3,"s":"after X-rays"},{"cm":1274.5,"i":23.1,"s":"after X-rays"},{"cm":1278,"i":24.5,"s":"after X-rays"},{"cm":1281.5,"i":23.7,"s":"after X-rays"},{"cm":1285,"i":22.4,"s":"after X-rays"},{"cm":1288.5,"i":21.8,"s":"after X-rays"},{"cm":1291.8,"i":22.1,"s":"after X-rays"},{"cm":1295,"i":21.4,"s":"after X-rays"},{"cm":1298.5,"i":22.3,"s":"after X-rays"},{"cm":1302.2,"i":22.5,"s":"after X-rays"},{"cm":1305,"i":24.5,"s":"after X-rays"},{"cm":1308,"i":26.6,"s":"after X-rays"},{"cm":1312.5,"i":28.5,"s":"after X-rays"},{"cm":1316,"i":28.1,"s":"after X-rays"},{"cm":1319,"i":27.6,"s":"after X-rays"},{"cm":1322.9,"i":27.3,"s":"after X-rays"},{"cm":1326,"i":27.9,"s":"after X-rays"},{"cm":1329.5,"i":27.6,"s":"after X-rays"},{"cm":1333.2,"i":26.9,"s":"after X-rays"},{"cm":1336,"i":29,"s":"after X-rays"},{"cm":1339.4,"i":34.2,"s":"after X-rays"},{"cm":1342.5,"i":40,"s":"after X-rays"},{"cm":1345,"i":46,"s":"after X-rays"},{"cm":1346.2,"i":48.2,"s":"after X-rays"},{"cm":1348,"i":46,"s":"after X-rays"},{"cm":1351,"i":37,"s":"after X-rays"},{"cm":1353.9,"i":27.7,"s":"after X-rays"},{"cm":1357.5,"i":27,"s":"after X-rays"},{"cm":1361.7,"i":26.1,"s":"after X-rays"},{"cm":1365,"i":24.5,"s":"after X-rays"},{"cm":1368.5,"i":21.5,"s":"after X-rays"},{"cm":1372.1,"i":19.3,"s":"after X-rays"},{"cm":1375.5,"i":21.5,"s":"after X-rays"},{"cm":1379.3,"i":26.1,"s":"after X-rays"},{"cm":1383,"i":31,"s":"after X-rays"},{"cm":1385.5,"i":33.5,"s":"after X-rays"},{"cm":1387,"i":34.2,"s":"after X-rays"},{"cm":1389.5,"i":32.4,"s":"after X-rays"},{"cm":1392,"i":31.6,"s":"after X-rays"},{"cm":1394.8,"i":30.9,"s":"after X-rays"},{"cm":1398,"i":28,"s":"after X-rays"},{"cm":1402.6,"i":23.7,"s":"after X-rays"},{"cm":1405.5,"i":21,"s":"after X-rays"},{"cm":1407.7,"i":18.5,"s":"after X-rays"},{"cm":1411.5,"i":19.8,"s":"after X-rays"},{"cm":1415.5,"i":19.7,"s":"after X-rays"},{"cm":1419.5,"i":19.2,"s":"after X-rays"},{"cm":1423.3,"i":20.1,"s":"after X-rays"},{"cm":1427,"i":19.7,"s":"after X-rays"},{"cm":1431,"i":18.1,"s":"after X-rays"},{"cm":1435,"i":22.5,"s":"after X-rays"},{"cm":1438.8,"i":27.7,"s":"after X-rays"},{"cm":1442,"i":30.2,"s":"after X-rays"},{"cm":1445.5,"i":32.6,"s":"after X-rays"},{"cm":1448.1,"i":33.8,"s":"after X-rays"},{"cm":1451,"i":32.4,"s":"after X-rays"},{"cm":1453.5,"i":31,"s":"after X-rays"},{"cm":1456.9,"i":30.1,"s":"after X-rays"},{"cm":1460,"i":29.6,"s":"after X-rays"},{"cm":1463.6,"i":28.9,"s":"after X-rays"},{"cm":1467,"i":26.5,"s":"after X-rays"},{"cm":1469.5,"i":24,"s":"after X-rays"},{"cm":1472.4,"i":21.3,"s":"after X-rays"},{"cm":1476,"i":17.5,"s":"after X-rays"},{"cm":1479,"i":14.5,"s":"after X-rays"},{"cm":1482.8,"i":12.5,"s":"after X-rays"},{"cm":1486.5,"i":11.8,"s":"after X-rays"},{"cm":1489.5,"i":11,"s":"after X-rays"},{"cm":1493.1,"i":10.9,"s":"after X-rays"},{"cm":1497,"i":11.6,"s":"after X-rays"},{"cm":1500.9,"i":11.7,"s":"after X-rays"},{"cm":1504,"i":13,"s":"after X-rays"},{"cm":1507,"i":14.8,"s":"after X-rays"},{"cm":1510.2,"i":16.9,"s":"after X-rays"},{"cm":1513,"i":14.8,"s":"after X-rays"},{"cm":1516,"i":12.5,"s":"after X-rays"},{"cm":1519,"i":11.7,"s":"after X-rays"},{"cm":1522.5,"i":11.2,"s":"after X-rays"},{"cm":1526,"i":11.8,"s":"after X-rays"},{"cm":1529,"i":13,"s":"after X-rays"},{"cm":1532,"i":14.1,"s":"after X-rays"},{"cm":1535,"i":12.5,"s":"after X-rays"},{"cm":1537.5,"i":11.3,"s":"after X-rays"},{"cm":1539.7,"i":10.9,"s":"after X-rays"},{"cm":1543,"i":11.6,"s":"after X-rays"},{"cm":1546.5,"i":11.2,"s":"after X-rays"},{"cm":1550.1,"i":10.9,"s":"after X-rays"},{"cm":1554,"i":11.8,"s":"after X-rays"},{"cm":1557.8,"i":11.3,"s":"after X-rays"},{"cm":1561.5,"i":10.4,"s":"after X-rays"},{"cm":1565,"i":9.6,"s":"after X-rays"},{"cm":1569,"i":9.2,"s":"after X-rays"},{"cm":1573.4,"i":8.1,"s":"after X-rays"},{"cm":1577,"i":9.2,"s":"after X-rays"},{"cm":1580.5,"i":9.8,"s":"after X-rays"},{"cm":1584,"i":10.6,"s":"after X-rays"},{"cm":1586.3,"i":11.3,"s":"after X-rays"},{"cm":1589.5,"i":10.6,"s":"after X-rays"},{"cm":1594.1,"i":9.7,"s":"after X-rays"},{"cm":1598,"i":10.8,"s":"after X-rays"},{"cm":1602,"i":12,"s":"after X-rays"},{"cm":1604.5,"i":13.5,"s":"after X-rays"},{"cm":1607,"i":14.9,"s":"after X-rays"},{"cm":1610,"i":13.8,"s":"after X-rays"},{"cm":1613.5,"i":13.2,"s":"after X-rays"},{"cm":1617,"i":13.8,"s":"after X-rays"},{"cm":1620,"i":14.1,"s":"after X-rays"},{"cm":1623.5,"i":15,"s":"after X-rays"},{"cm":1627,"i":16.3,"s":"after X-rays"},{"cm":1630.3,"i":17.3,"s":"after X-rays"},{"cm":1634,"i":17.8,"s":"after X-rays"},{"cm":1637,"i":18.8,"s":"after X-rays"},{"cm":1640.7,"i":19.7,"s":"after X-rays"},{"cm":1644,"i":20.4,"s":"after X-rays"},{"cm":1647.5,"i":21.3,"s":"after X-rays"},{"cm":1651,"i":22.1,"s":"after X-rays"},{"cm":1655,"i":23.3,"s":"after X-rays"},{"cm":1658.8,"i":24.5,"s":"after X-rays"},{"cm":1662,"i":23.6,"s":"after X-rays"},{"cm":1665.5,"i":22.4,"s":"after X-rays"},{"cm":1669.1,"i":21.3,"s":"after X-rays"},{"cm":1673,"i":19.3,"s":"after X-rays"},{"cm":1677,"i":17.3,"s":"after X-rays"},{"cm":1682.1,"i":14.9,"s":"after X-rays"},{"cm":1686,"i":13.4,"s":"after X-rays"},{"cm":1690,"i":12.2,"s":"after X-rays"},{"cm":1695,"i":10.9,"s":"after X-rays"},{"cm":1699,"i":10.5,"s":"after X-rays"},{"cm":1703.5,"i":9.9,"s":"after X-rays"},{"cm":1708,"i":9.3,"s":"after X-rays"},{"cm":1712,"i":9,"s":"after X-rays"},{"cm":1716,"i":8.5,"s":"after X-rays"},{"cm":1720,"i":8.4,"s":"after X-rays"},{"cm":1723.5,"i":7.7,"s":"after X-rays"},{"cm":1727,"i":7.6,"s":"after X-rays"},{"cm":1731,"i":7.3,"s":"after X-rays"},{"cm":1736.4,"i":6.9,"s":"after X-rays"},{"cm":1740,"i":7.2,"s":"after X-rays"},{"cm":1744,"i":6.8,"s":"after X-rays"},{"cm":1748,"i":7.3,"s":"after X-rays"},{"cm":1751.9,"i":7.7,"s":"after X-rays"},{"cm":1756,"i":7.1,"s":"after X-rays"},{"cm":1760,"i":7,"s":"after X-rays"},{"cm":1764.9,"i":6.5,"s":"after X-rays"},{"cm":1768.5,"i":7.2,"s":"after X-rays"},{"cm":1772,"i":7.6,"s":"after X-rays"},{"cm":1776,"i":7,"s":"after X-rays"},{"cm":1780.4,"i":7.3,"s":"after X-rays"},{"cm":1784,"i":6.8,"s":"after X-rays"},{"cm":1788,"i":7.6,"s":"after X-rays"},{"cm":1792,"i":7,"s":"after X-rays"},{"cm":1796,"i":6.9,"s":"after X-rays"},{"cm":1800,"i":7.3,"s":"after X-rays"},{"cm":1803,"i":6.6,"s":"after X-rays"},{"cm":1806.3,"i":6.5,"s":"after X-rays"},{"cm":1810,"i":7.4,"s":"after X-rays"},{"cm":1813.5,"i":6.8,"s":"after X-rays"},{"cm":1816.6,"i":7.7,"s":"after X-rays"},{"cm":1820,"i":7.5,"s":"after X-rays"}
  ],
  "annA": [
    {"pos":461,"top":98.3,"label":"461"},{"pos":490,"top":94.2,"label":"490"},{"pos":592,"top":59.8,"label":"592"},{"pos":629,"top":61.2,"label":"629"}
  ],
  "annB": [
    {"pos":1004,"lx":1005,"top":64.7,"label":"1004"},{"pos":1163,"lx":1164,"top":69.1,"label":"1163"},{"pos":1229,"lx":1230,"top":71.5,"label":"1229"},{"pos":1228,"lx":1228,"top":43,"label":"1228"},{"pos":1314,"lx":1314,"top":31.7,"label":"1314"},{"pos":1349,"lx":1340,"top":61.9,"label":"1349"},{"pos":1356,"lx":1358,"top":73.1,"label":"1356"},{"pos":1387,"lx":1382,"top":37.8,"label":"1387"},{"pos":1396,"lx":1404,"top":38.6,"label":"1396"},{"pos":1406,"lx":1407,"top":66.3,"label":"1406"},{"pos":1448,"lx":1444,"top":37.4,"label":"1448"},{"pos":1454,"lx":1454,"top":86.3,"label":"1454"},{"pos":1464,"lx":1471,"top":35.4,"label":"1464"},{"pos":1503,"lx":1506,"top":63.9,"label":"1503"},{"pos":1511,"lx":1511,"top":21.3,"label":"1511"},{"pos":1532,"lx":1532,"top":19.7,"label":"1532"},{"pos":1539,"lx":1540,"top":65.5,"label":"1539"},{"pos":1561,"lx":1566,"top":63.5,"label":"1561"},{"pos":1587,"lx":1588,"top":13.7,"label":"1587"},{"pos":1608,"lx":1609,"top":64.3,"label":"1608"},{"pos":1662,"lx":1663,"top":64.3,"label":"1662"},{"pos":1750,"lx":1751,"top":61.9,"label":"1750"}
  ],
  "leadB": [{"x1":982,"y1":75,"x2":1002,"y2":88.7,"lx":1005,"label":"983"}],
  "legA": [
    {"x1":702.1,"x2":744.2,"y":94.2,"s":"before X-rays"},{"x1":702.1,"x2":744.2,"y":87.7,"s":"after X-rays"}
  ],
  "legB": [
    {"x1":1543.3,"x2":1617.9,"y":94.2,"s":"before X-rays"},{"x1":1543.3,"x2":1617.9,"y":87.7,"s":"after X-rays"}
  ],
  "legTA": [
    {"x":702.1,"y":100.5,"t":"Oxidized"},{"x":797.4,"y":100.5,"t":"Fld1"},{"x":750.8,"y":94.2,"t":"before X-rays"},{"x":750.8,"y":87.7,"t":"after X-rays"}
  ],
  "legTB": [
    {"x":1543.3,"y":100.5,"t":"Oxidized"},{"x":1713,"y":100.5,"t":"Fld1"},{"x":1628.8,"y":94.2,"t":"before X-rays"},{"x":1628.8,"y":87.7,"t":"after X-rays"}
  ],
  "minorA": [{"t":410},{"t":420},{"t":430},{"t":440},{"t":460},{"t":470},{"t":480},{"t":490},{"t":510},{"t":520},{"t":530},{"t":540},{"t":560},{"t":570},{"t":580},{"t":590},{"t":610},{"t":620},{"t":630},{"t":640},{"t":660},{"t":670},{"t":680},{"t":690},{"t":710},{"t":720},{"t":730},{"t":740},{"t":760},{"t":770},{"t":780},{"t":790},{"t":810},{"t":820},{"t":830},{"t":840}],
  "minorB": [{"t":960},{"t":980},{"t":1020},{"t":1040},{"t":1060},{"t":1080},{"t":1120},{"t":1140},{"t":1160},{"t":1180},{"t":1220},{"t":1240},{"t":1260},{"t":1280},{"t":1320},{"t":1340},{"t":1360},{"t":1380},{"t":1420},{"t":1440},{"t":1460},{"t":1480},{"t":1520},{"t":1540},{"t":1560},{"t":1580},{"t":1620},{"t":1640},{"t":1660},{"t":1680},{"t":1720},{"t":1740},{"t":1760},{"t":1780},{"t":1820}],
  "one": [{"k": 1}]
},
"hconcat": [
  {
    "width": 517, "height": 415,
    "layer": [
      {"data": {"name": "annA"}, "mark": {"type": "rule", "color": "#999", "strokeWidth": 1, "strokeDash": [1.5, 2]},
       "encoding": {
         "x": {"field": "pos", "type": "quantitative", "title": "Wavelength (nm)", "scale": {"domain": [400, 850], "nice": false, "zero": false},
               "axis": {"values": [400,450,500,550,600,650,700,750,800,850], "format": "d", "labelOverlap": false, "labelFlush": false, "labelFontSize": 18, "labelPadding": 2, "ticks": true, "tickSize": 5, "tickWidth": 1.3, "tickColor": "#000", "titlePadding": 18, "titleFontSize": 22}},
         "y": {"field": "top", "type": "quantitative", "title": "Absorbance", "scale": {"domain": [0, 100], "nice": false, "zero": false},
               "axis": {"ticks": false, "labels": false, "titlePadding": 16, "titleFontSize": 22}},
         "y2": {"datum": 0}
       }},
      {"data": {"name": "minorA"}, "mark": {"type": "rule", "color": "#000", "strokeWidth": 1.3},
       "encoding": {
         "x": {"field": "t", "type": "quantitative", "title": "Wavelength (nm)"},
         "y": {"datum": 0, "type": "quantitative", "title": "Absorbance"},
         "y2": {"datum": -1.2}
       }},
      {"data": {"name": "annA"}, "mark": {"type": "text", "angle": 270, "align": "left", "baseline": "middle", "dx": 3.5, "fontSize": 15, "color": "#222"},
       "encoding": {
         "x": {"field": "pos", "type": "quantitative", "title": "Wavelength (nm)"},
         "y": {"field": "top", "type": "quantitative", "title": "Absorbance"},
         "text": {"field": "label"}
       }},
      {"data": {"name": "absA"}, "mark": {"type": "line", "strokeWidth": 1.8, "strokeJoin": "round"},
       "encoding": {
         "x": {"field": "nm", "type": "quantitative", "title": "Wavelength (nm)"},
         "y": {"field": "a", "type": "quantitative", "title": "Absorbance"},
         "color": {"field": "s", "type": "nominal", "scale": {"domain": ["before X-rays", "after X-rays"], "range": ["#E8A52A", "#12A4F0"]}, "legend": null},
         "order": {"field": "nm", "type": "quantitative"}
       }},
      {"data": {"name": "legA"}, "mark": {"type": "rule", "strokeWidth": 1.8},
       "encoding": {
         "x": {"field": "x1", "type": "quantitative", "title": "Wavelength (nm)"},
         "x2": {"field": "x2"},
         "y": {"field": "y", "type": "quantitative", "title": "Absorbance"},
         "color": {"field": "s", "type": "nominal", "legend": null}
       }},
      {"data": {"name": "legTA"}, "mark": {"type": "text", "align": "left", "baseline": "middle", "fontSize": 21, "color": "#111"},
       "encoding": {
         "x": {"field": "x", "type": "quantitative", "title": "Wavelength (nm)"},
         "y": {"field": "y", "type": "quantitative", "title": "Absorbance"},
         "text": {"field": "t"}
       }},
      {"data": {"name": "one"}, "mark": {"type": "text", "text": "bc", "fontStyle": "italic", "align": "left", "baseline": "middle", "fontSize": 21, "color": "#111"},
       "encoding": {
         "x": {"datum": 778.3, "type": "quantitative", "title": "Wavelength (nm)"},
         "y": {"datum": 100.5, "type": "quantitative", "title": "Absorbance"}
       }},
      {"data": {"name": "one"}, "mark": {"type": "text", "text": "A", "fontWeight": "bold", "align": "center", "baseline": "middle", "fontSize": 28, "color": "#000"},
       "encoding": {
         "x": {"datum": 366.7, "type": "quantitative", "title": "Wavelength (nm)"},
         "y": {"datum": 103.6, "type": "quantitative", "title": "Absorbance"}
       }}
    ]
  },
  {
    "width": 556, "height": 415,
    "layer": [
      {"data": {"name": "annB"}, "mark": {"type": "rule", "color": "#8a8a8a", "strokeWidth": 1, "strokeDash": [3, 2]},
       "encoding": {
         "x": {"field": "pos", "type": "quantitative", "title": "Raman shifts (cm⁻¹)", "scale": {"domain": [957, 1821], "nice": false, "zero": false},
               "axis": {"values": [1000,1100,1200,1300,1400,1500,1600,1700,1800], "format": "d", "labelOverlap": false, "labelFlush": false, "labelFontSize": 18, "labelPadding": 2, "ticks": true, "tickSize": 5, "tickWidth": 1.3, "tickColor": "#000", "titlePadding": 18, "titleFontSize": 22}},
         "y": {"field": "top", "type": "quantitative", "title": "Intensity", "scale": {"domain": [0, 100], "nice": false, "zero": false},
               "axis": {"ticks": false, "labels": false, "domain": false, "titlePadding": 14, "titleFontSize": 22}},
         "y2": {"datum": 0}
       }},
      {"data": {"name": "minorB"}, "mark": {"type": "rule", "color": "#000", "strokeWidth": 1.3},
       "encoding": {
         "x": {"field": "t", "type": "quantitative", "title": "Raman shifts (cm⁻¹)"},
         "y": {"datum": 0, "type": "quantitative", "title": "Intensity"},
         "y2": {"datum": -1.2}
       }},
      {"data": {"name": "leadB"}, "mark": {"type": "rule", "color": "#8a8a8a", "strokeWidth": 1, "strokeDash": [3, 2]},
       "encoding": {
         "x": {"field": "x1", "type": "quantitative", "title": "Raman shifts (cm⁻¹)"},
         "x2": {"field": "x2"},
         "y": {"field": "y1", "type": "quantitative", "title": "Intensity"},
         "y2": {"field": "y2"}
       }},
      {"data": {"name": "one"}, "mark": {"type": "rule", "color": "#E8A52A", "strokeWidth": 1.2, "strokeDash": [2, 3], "opacity": 0.8},
       "encoding": {
         "x": {"datum": 1477, "type": "quantitative", "title": "Raman shifts (cm⁻¹)"},
         "x2": {"datum": 1630},
         "y": {"datum": 57.8, "type": "quantitative", "title": "Intensity"}
       }},
      {"data": {"name": "ram"}, "mark": {"type": "line", "strokeWidth": 3.4, "color": "#c4c4c4", "opacity": 0.7, "strokeJoin": "round"},
       "encoding": {
         "x": {"field": "cm", "type": "quantitative", "title": "Raman shifts (cm⁻¹)"},
         "y": {"field": "i", "type": "quantitative", "title": "Intensity"},
         "detail": {"field": "s"}
       }},
      {"data": {"name": "ram"}, "mark": {"type": "line", "strokeWidth": 1.7, "strokeJoin": "round"},
       "encoding": {
         "x": {"field": "cm", "type": "quantitative", "title": "Raman shifts (cm⁻¹)"},
         "y": {"field": "i", "type": "quantitative", "title": "Intensity"},
         "color": {"field": "s", "type": "nominal", "scale": {"domain": ["before X-rays", "after X-rays"], "range": ["#E8A52A", "#12A4F0"]}, "legend": null}
       }},
      {"data": {"name": "annB"}, "mark": {"type": "text", "angle": 270, "align": "left", "baseline": "middle", "dx": 3.5, "fontSize": 14.5, "color": "#222"},
       "encoding": {
         "x": {"field": "lx", "type": "quantitative", "title": "Raman shifts (cm⁻¹)"},
         "y": {"field": "top", "type": "quantitative", "title": "Intensity"},
         "text": {"field": "label"}
       }},
      {"data": {"name": "leadB"}, "mark": {"type": "text", "angle": 270, "align": "left", "baseline": "middle", "dx": 3.5, "fontSize": 14.5, "color": "#222"},
       "encoding": {
         "x": {"field": "lx", "type": "quantitative", "title": "Raman shifts (cm⁻¹)"},
         "y": {"field": "y2", "type": "quantitative", "title": "Intensity"},
         "text": {"field": "label"}
       }},
      {"data": {"name": "one"}, "mark": {"type": "rule", "color": "#000", "strokeWidth": 1.6},
       "encoding": {
         "x": {"datum": 957, "type": "quantitative", "title": "Raman shifts (cm⁻¹)"},
         "y": {"datum": 0, "type": "quantitative", "title": "Intensity"},
         "y2": {"datum": 97.1}
       }},
      {"data": {"name": "legB"}, "mark": {"type": "rule", "strokeWidth": 1.8},
       "encoding": {
         "x": {"field": "x1", "type": "quantitative", "title": "Raman shifts (cm⁻¹)"},
         "x2": {"field": "x2"},
         "y": {"field": "y", "type": "quantitative", "title": "Intensity"},
         "color": {"field": "s", "type": "nominal", "legend": null}
       }},
      {"data": {"name": "legTB"}, "mark": {"type": "text", "align": "left", "baseline": "middle", "fontSize": 21, "color": "#111"},
       "encoding": {
         "x": {"field": "x", "type": "quantitative", "title": "Raman shifts (cm⁻¹)"},
         "y": {"field": "y", "type": "quantitative", "title": "Intensity"},
         "text": {"field": "t"}
       }},
      {"data": {"name": "one"}, "mark": {"type": "text", "text": "bc", "fontStyle": "italic", "align": "left", "baseline": "middle", "fontSize": 21, "color": "#111"},
       "encoding": {
         "x": {"datum": 1678.4, "type": "quantitative", "title": "Raman shifts (cm⁻¹)"},
         "y": {"datum": 100.5, "type": "quantitative", "title": "Intensity"}
       }},
      {"data": {"name": "one"}, "mark": {"type": "text", "text": "B", "fontWeight": "bold", "align": "center", "baseline": "middle", "fontSize": 28, "color": "#000"},
       "encoding": {
         "x": {"datum": 911.3, "type": "quantitative", "title": "Raman shifts (cm⁻¹)"},
         "y": {"datum": 103.6, "type": "quantitative", "title": "Intensity"}
       }}
    ]
  }
]
}
